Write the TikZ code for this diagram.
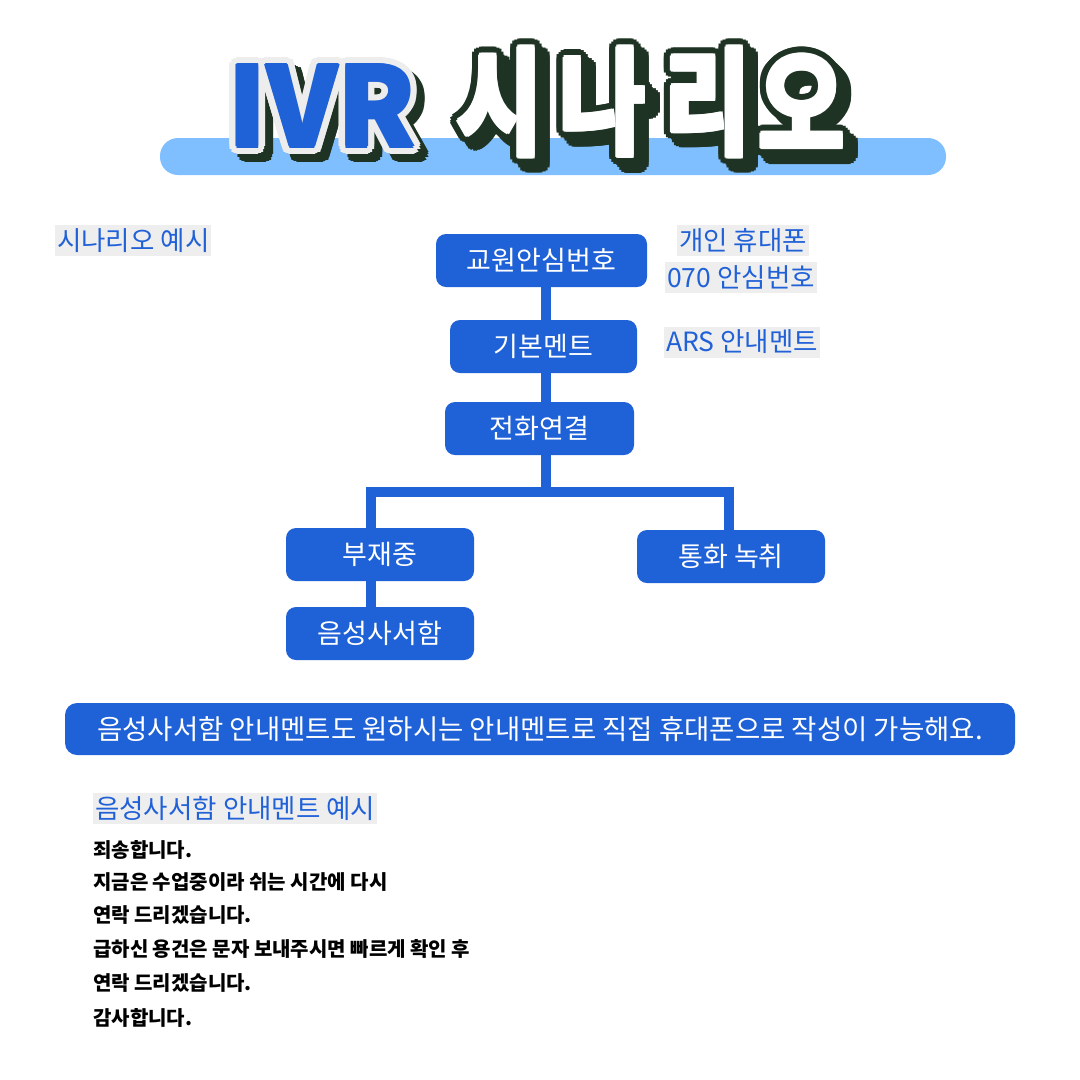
\documentclass[tikz,border=0pt]{standalone}
\usepackage{fontspec}
\usepackage{graphicx}
\setmainfont{Noto Sans CJK KR}
\usetikzlibrary{calc}
\definecolor{blueA}{HTML}{1F61D6}
\definecolor{blueT}{HTML}{2161D8}
\definecolor{lightbar}{HTML}{80BFFF}
\definecolor{labbg}{HTML}{EEEEEE}
\definecolor{darkg}{HTML}{1F3324}
\definecolor{outl}{HTML}{EDEDED}
\newcommand\ttl[5]{%
  \foreach \a in {0,20,...,340}{\node[ttlfont,text=darkg] (#1s\a) at ($(#2)+(8,8)+(\a:8)$) {#3};}
  \foreach \a in {0,20,...,340}{\node[ttlfont,text=#5] (#1o\a) at ($(#2)+(\a:8)$) {#3};}
  \foreach \a in {0,60,...,300}{\node[ttlfont,text=#4] (#1f\a) at ($(#2)+(\a:1.5)$) {#3};}
  \node[ttlfont,text=#4] (#1) at (#2) {#3};
}
\newcommand\hch[1]{\scalebox{0.86}[1.07]{#1}}
\begin{document}
\begin{tikzpicture}[x=1pt,y=-1pt,
  ttlfont/.style={inner sep=0pt,font=\fontsize{110}{120}\selectfont\bfseries},
  box/.style={fill=blueA,rounded corners=10pt,text=white,minimum width=188pt,minimum height=53pt,inner sep=0pt,font=\fontsize{27}{30}\selectfont},
  lab/.style={fill=labbg,text=blueT,inner xsep=2pt,inner ysep=0pt,minimum height=31pt,anchor=west,font=\fontsize{26.5}{30}\selectfont},
  body/.style={anchor=west,inner sep=0pt,text=black,font=\fontsize{20}{24}\selectfont\bfseries},
  conn/.style={draw=blueA,line width=10pt}]
\useasboundingbox[fill=white] (0,0) rectangle (1080,1080);
% title bar
\node[fill=lightbar,rounded corners=18pt,minimum width=786pt,minimum height=37pt,inner sep=0pt] (bar) at (553,156.5) {};
\coordinate (p1) at (322,106);
\coordinate (q1) at (500,102);
\coordinate (q2) at (603,102);
\coordinate (q3) at (708,102);
\coordinate (q4) at (802,102);
\ttl{tivr}{p1}{IVR}{blueA}{outl}
\ttl{tsa}{q1}{\hch{시}}{white}{darkg}
\ttl{tsb}{q2}{\hch{나}}{white}{darkg}
\ttl{tsc}{q3}{\hch{리}}{white}{darkg}
\ttl{tsd}{q4}{\hch{오}}{white}{darkg}
% labels
\node[lab] (l1) at (55,240.5) {시나리오 예시};
\node[lab] (l2) at (677,240.5) {개인 휴대폰};
\node[lab] (l3) at (665,277) {070 안심번호};
\node[lab] (l4) at (664,342) {ARS 안내멘트};
% boxes
\node[box,minimum width=211pt] (n1) at (541.5,260.5) {교원안심번호};
\node[box,minimum width=187pt] (n2) at (543.5,346.5) {기본멘트};
\node[box,minimum width=189pt] (n3) at (539.5,428.5) {전화연결};
\node[box] (n4) at (380,554.5) {부재중};
\node[box] (n5) at (731,556.5) {통화 녹취};
\node[box] (n6) at (380,633.5) {음성사서함};
% connectors
\coordinate (tr) at (546,0);
\coordinate (jn) at (546,492);
\coordinate (jl) at (371,492);
\coordinate (jr) at (729,492);
\draw[conn] (n1.south -| tr) -- (n2.north -| tr);
\draw[conn] (n2.south -| tr) -- (n3.north -| tr);
\draw[conn] (n3.south -| tr) -- (jn);
\draw[conn] (n4.north -| jl) -- (jl) -- (jr) -- (n5.north -| jr);
\draw[conn] (n4.south -| jl) -- (n6.north -| jl);
% banner
\node[fill=blueA,rounded corners=12pt,minimum width=950pt,minimum height=52pt,inner sep=0pt,text=white,font=\fontsize{27.5}{30}\selectfont] (ban) at (540,729) {음성사서함 안내멘트도 원하시는 안내멘트로 직접 휴대폰으로 작성이 가능해요.};
% example
\node[lab] (l5) at (93,808.5) {음성사서함 안내멘트 예시};
\node[body] (b1) at (93,850) {죄송합니다.};
\node[body] (b2) at (93,882) {지금은 수업중이라 쉬는 시간에 다시};
\node[body] (b3) at (93,915) {연락 드리겠습니다.};
\node[body] (b4) at (93,949) {급하신 용건은 문자 보내주시면 빠르게 확인 후};
\node[body] (b5) at (93,983) {연락 드리겠습니다.};
\node[body] (b6) at (93,1018) {감사합니다.};
\end{tikzpicture}
\end{document}
